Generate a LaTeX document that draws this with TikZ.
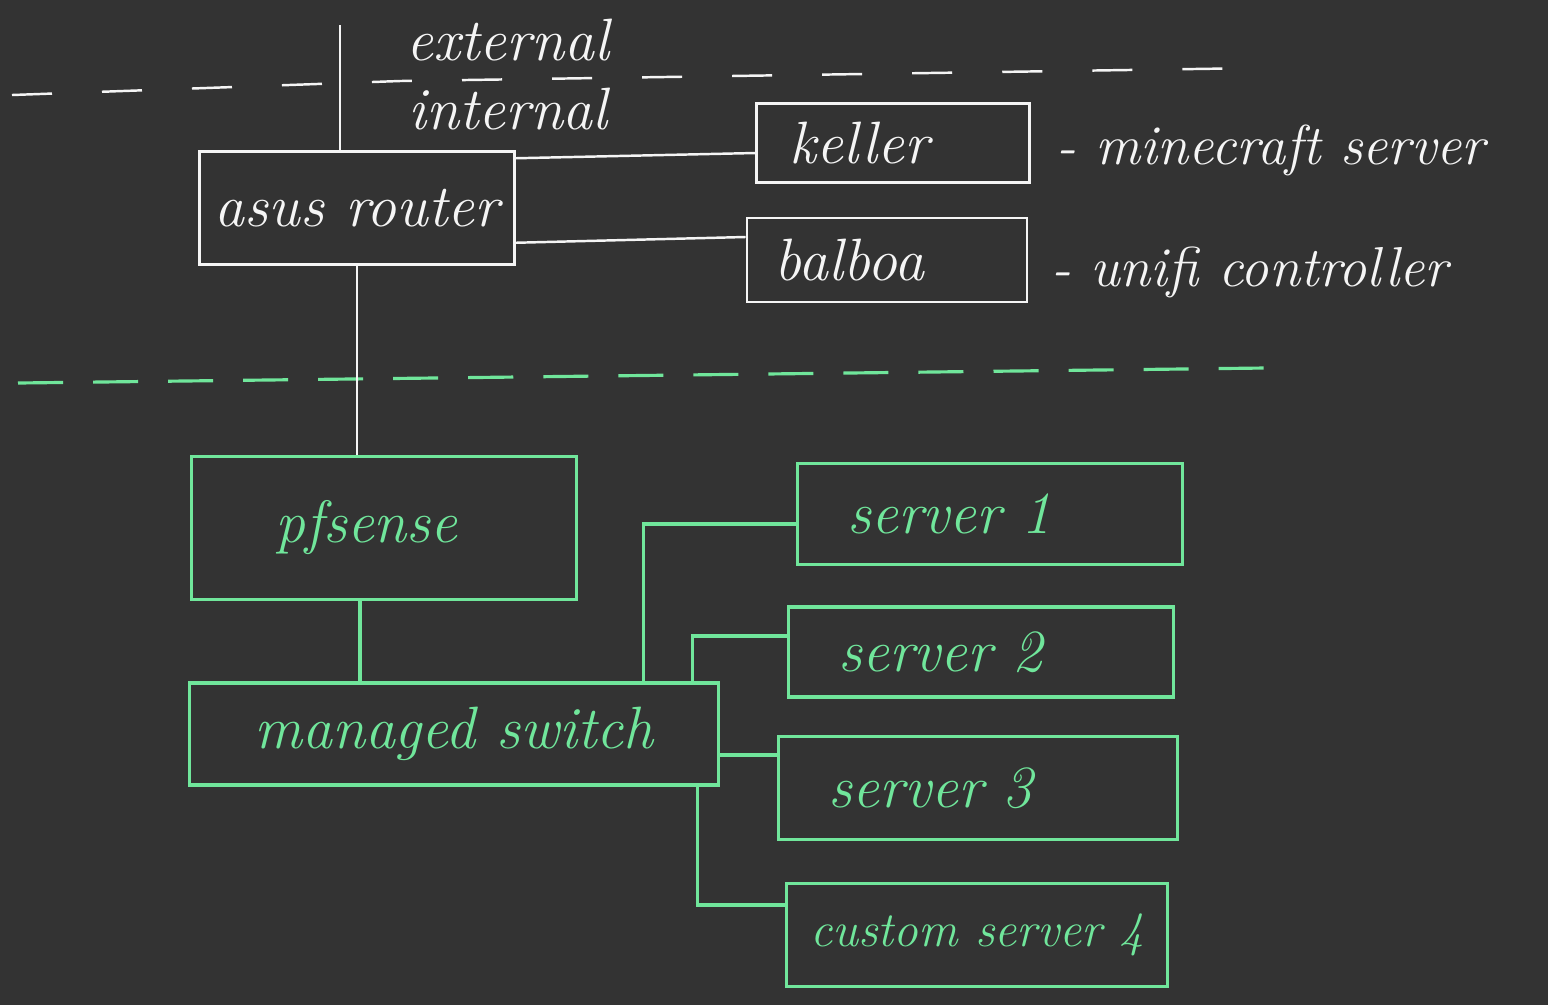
\documentclass[tikz,border=0pt]{standalone}
\usetikzlibrary{positioning,calc}

\definecolor{board}{RGB}{51,51,51}
\definecolor{chalk}{RGB}{245,245,245}
\definecolor{mint}{RGB}{112,230,155}

\begin{document}
\begin{tikzpicture}[x=0.01cm,y=-0.01cm]
  \tikzstyle{hostBox} = [
    % The shape:
    rectangle, inner sep=0pt,
    % The border:
    draw=chalk, line width=0.7pt,
    % Font:
    text=chalk, font=\fontsize{17}{20}\selectfont\itshape
  ];
  \tikzstyle{labBox} = [
    % The shape:
    rectangle, inner sep=0pt,
    % The border:
    draw=mint, line width=0.9pt,
    % Font:
    text=mint, font=\fontsize{17}{20}\selectfont\itshape
  ];
  \tikzstyle{serverBox} = [
    labBox, inner xsep=0.5cm, text width=2.85cm, align=left
  ];
  \tikzstyle{note} = [
    % Just text!
    inner sep=0pt, text=chalk, font=\fontsize{16}{19}\selectfont\itshape
  ];
  \tikzstyle{wire} = [
    draw=chalk, line width=0.7pt
  ];
  \tikzstyle{labWire} = [
    draw=mint, line width=0.9pt
  ];

  % the board
  \fill [board] (0,0) rectangle (1548,1005);
  \useasboundingbox (0,0) rectangle (1548,1005);

  % zone borders
  \draw [wire, dash pattern=on 0.4cm off 0.5cm] (12,95) -- (400,81) -- (1260,68);
  \draw [labWire, dash pattern=on 0.45cm off 0.3cm] (18,383) -- (1265,368);

  \node [note, font=\fontsize{17}{20}\selectfont\itshape] (external) at (508,40) {external};
  \node [note, font=\fontsize{17}{20}\selectfont\itshape, below=0.26cm of external] (internal) {internal};

  % home network
  \node [hostBox, minimum width=3.15cm, minimum height=1.13cm] (router) at (357,208) {asus router};
  \node [hostBox, inner xsep=0.33cm, text width=2.07cm, align=left, minimum height=0.79cm] (keller) at (893,143) {keller};
  \node [hostBox, inner xsep=0.28cm, text width=2.24cm, align=left, minimum height=0.84cm] (balboa) at (887,260) {balboa};

  \node [note, right=0.25cm of keller, yshift=-0.07cm] (kellerNote) {- minecraft server};
  \node [note, right=0.22cm of balboa, yshift=-0.12cm] (balboaNote) {- unifi controller};

  % lab network
  \node [labBox, minimum width=3.85cm, minimum height=1.43cm] (pfsense) at (384,528) {\hspace*{-0.35cm}pfsense};
  \node [labBox, minimum width=5.28cm, minimum height=1.02cm] (switch) at (454,734) {managed switch};

  \node [serverBox, minimum height=1.01cm] (server1) at (990,514) {server 1};
  \node [serverBox, minimum height=0.90cm] (server2) at (981,652) {server 2};
  \node [serverBox, text width=2.98cm, minimum height=1.03cm] (server3) at (978,788) {server 3};
  \node [labBox, font=\fontsize{14}{17}\selectfont\itshape, minimum width=3.81cm, minimum height=1.03cm] (server4) at (977,935) {custom server 4};

  \coordinate (uplink) at (340,25);

  \path [wire] (uplink) to (uplink |- router.north);
  \path [wire] ([yshift=-0.08cm]router.north east) to ([yshift=-0.10cm]keller.west);
  \path [wire] ([yshift=0.23cm]router.south east) to ([yshift=0.23cm]balboa.west);
  \path [wire] (router.south) to (router.south |- pfsense.north);

  \path [labWire] ([xshift=-0.24cm]pfsense.south) to ([xshift=-0.24cm]pfsense.south |- switch.north);
  \path [labWire] ([xshift=1.89cm]switch.north) |- ([yshift=-0.10cm]server1.west);
  \path [labWire] ([xshift=2.38cm]switch.north) |- ([yshift=0.16cm]server2.west);
  \path [labWire] ([yshift=-0.21cm]switch.east) to ([yshift=-0.21cm]switch.east -| server3.west);
  \path [labWire] ([xshift=2.43cm]switch.south) |- ([yshift=0.30cm]server4.west);
\end{tikzpicture}
\end{document}
